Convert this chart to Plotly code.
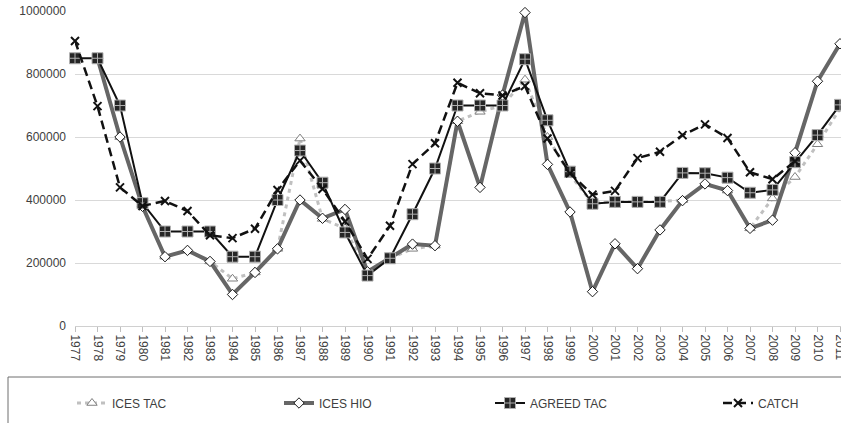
import plotly.graph_objects as go

years = list(range(1977, 2012))
year_labels = [str(y) for y in years]

ices_tac = [None, 850000, 600000, 380000, 220000, 240000, 205000, 150000, 170000, 245000,
            595000, 340000, 310000, 170000, 215000, 245000, 255000, 650000, 680000, 700000,
            782000, 600000, 480000, 390000, 395000, 395000, 395000, 400000, 450000, 430000,
            310000, 405000, 473000, 577000, 690000]

ices_hio = [None, 850000, 600000, 380000, 220000, 240000, 205000, 100000, 170000, 245000,
            400000, 342000, 370000, 172000, 215000, 260000, 255000, 650000, 440000, 733000,
            995000, 513000, 362000, 109000, 261000, 182000, 305000, 398000, 451000, 430000,
            310000, 336000, 550000, 777000, 896000]

agreed_tac = [850000, 850000, 700000, 390000, 300000, 300000, 300000, 220000, 220000, 400000,
              557000, 455000, 297000, 160000, 215000, 355000, 500000, 700000, 700000, 700000,
              847000, 653000, 490000, 388000, 394000, 394000, 394000, 486000, 485000, 471000,
              423000, 432000, 520000, 606000, 702000]

catch = [905000, 698000, 440000, 381000, 397000, 365000, 288000, 279000, 309000, 432000,
         525000, 435000, 332000, 213000, 318000, 514000, 580000, 772000, 739000, 732000,
         762000, 595000, 485000, 417000, 429000, 533000, 553000, 606000, 640000, 597000,
         488000, 466000, 523000, None, None]

y_ticks = [0, 200000, 400000, 600000, 800000, 1000000]
y_labels = [str(v) for v in y_ticks]

W, H = 841, 423
ML, MT, MB, MR = 75, 11, 97, 0
PW, PH = W - ML - MR, H - MT - MB

TXT = "#404040"
FONT = "Liberation Sans"

fig = go.Figure()

fig.add_trace(go.Scatter(
    x=years, y=ices_tac, name="ICES TAC", mode="lines+markers", legend="legend",
    line=dict(color="#c0c0c0", width=3, dash="4px,4px"),
    marker=dict(symbol="triangle-up", size=9, color="white",
                line=dict(color="#808080", width=1)),
    cliponaxis=False))

fig.add_trace(go.Scatter(
    x=years, y=ices_hio, name="ICES HIO", mode="lines+markers", legend="legend2",
    line=dict(color="#666666", width=4),
    marker=dict(symbol="diamond", size=8, color="white",
                line=dict(color="#1a1a1a", width=1)),
    cliponaxis=False))

fig.add_trace(go.Scatter(
    x=years, y=agreed_tac, name="AGREED TAC", mode="lines+markers", legend="legend3",
    line=dict(color="#111111", width=2),
    marker=dict(symbol="square-cross", size=11, color="#262626",
                line=dict(color="#b0b0b0", width=1)),
    cliponaxis=False))

fig.add_trace(go.Scatter(
    x=years, y=catch, name="CATCH", mode="lines+markers", legend="legend4",
    line=dict(color="#111111", width=2.5, dash="9px,5px"),
    marker=dict(symbol="x-thin", size=8, color="#111111",
                line=dict(color="#111111", width=2)),
    cliponaxis=False))

R = 34 * PW / (PW - 1)
fig.update_xaxes(
    range=[1977, 1977 + R], tickmode="array", tickvals=years, ticktext=year_labels,
    tickangle=90, ticks="outside", ticklen=5, tickcolor="#bfbfbf",
    showline=True, linecolor="#d0d0d0", linewidth=1, showgrid=False, zeroline=False,
    tickfont=dict(family=FONT, size=12, color=TXT), automargin=False,
    ticklabeloverflow="allow")

fig.update_yaxes(
    range=[0, 1000000], tickmode="array", tickvals=y_ticks, ticktext=y_labels,
    showgrid=True, gridcolor="#d9d9d9", gridwidth=1, zeroline=False, showline=False,
    ticks="", ticklabelstandoff=8, ticklabeloverflow="allow",
    tickfont=dict(family=FONT, size=12, color=TXT), automargin=False)

def leg(page_x):
    return dict(xref="container", yref="container", x=page_x / W, y=1 - 403 / H,
                xanchor="left", yanchor="middle", orientation="h",
                bgcolor="rgba(0,0,0,0)", borderwidth=0,
                font=dict(family=FONT, size=12, color=TXT), itemwidth=30)

def px_to_paper_x(page_x):
    return (page_x - ML) / PW

def px_to_paper_y(page_y):
    return (H - MB - page_y) / PH

fig.update_layout(
    width=W, height=H, margin=dict(l=ML, r=MR, t=MT, b=MB),
    paper_bgcolor="white", plot_bgcolor="white", showlegend=True,
    legend=leg(72), legend2=leg(279), legend3=leg(490), legend4=leg(718),
    shapes=[dict(type="rect", xref="paper", yref="paper",
                 x0=px_to_paper_x(8), x1=px_to_paper_x(870),
                 y0=px_to_paper_y(377), y1=px_to_paper_y(450),
                 line=dict(color="#6e6e6e", width=1), fillcolor="rgba(0,0,0,0)",
                 layer="below")],
)

fig.write_html("out.html", config={"displayModeBar": False},
               post_script="document.body.style.margin='0';document.body.style.overflow='hidden';")
